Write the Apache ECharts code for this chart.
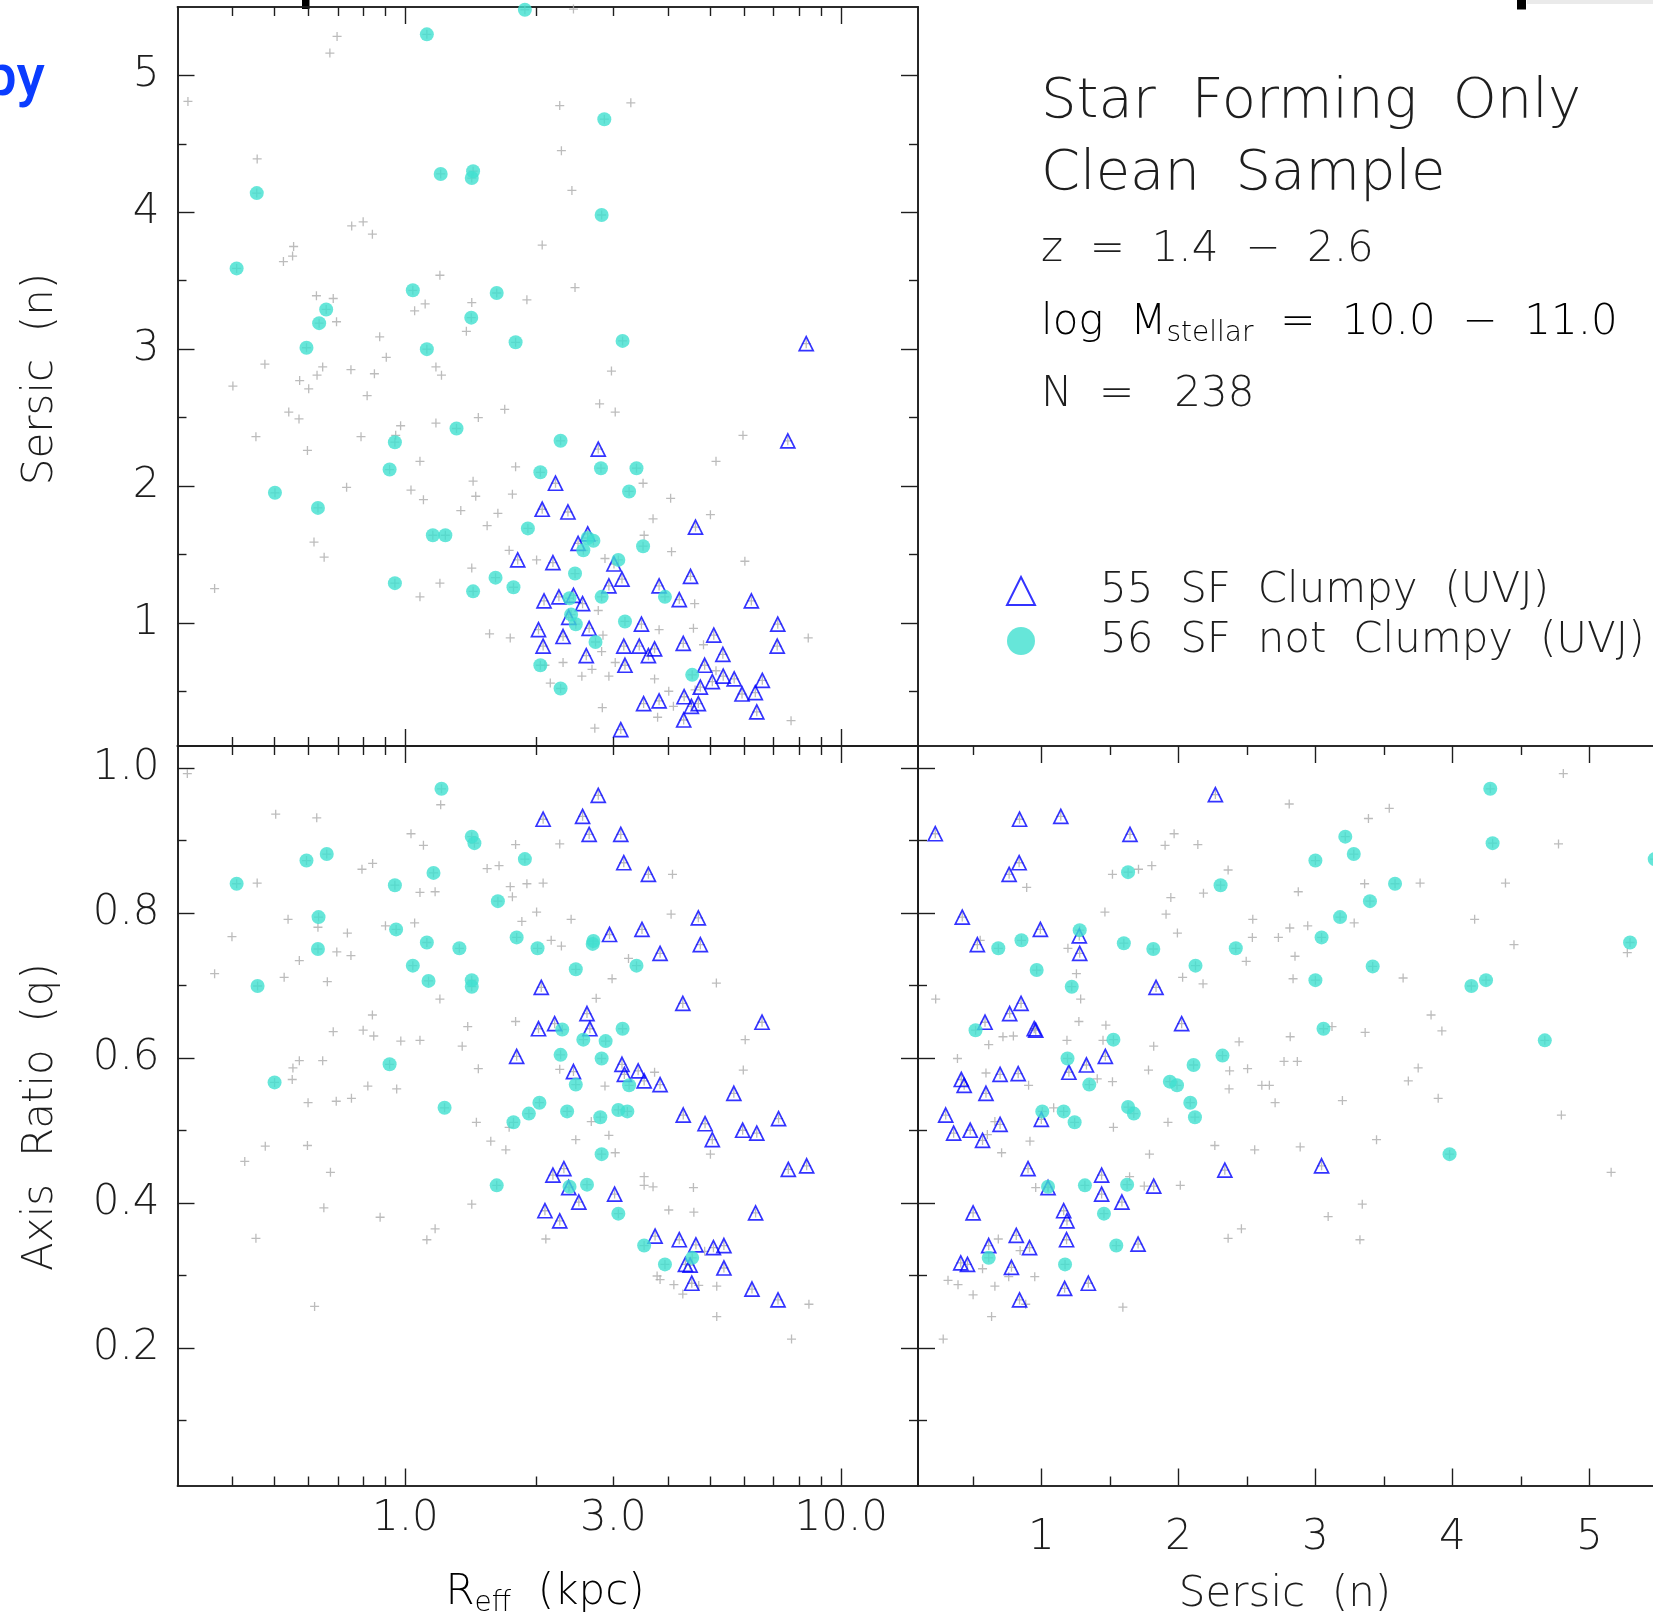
<!DOCTYPE html>
<html>
<head>
<meta charset="utf-8">
<title>Star Forming Only – Clean Sample</title>
<script src="https://cdn.jsdelivr.net/npm/echarts@6/dist/echarts.min.js"></script>
<style>
  html, body { margin: 0; padding: 0; background: #ffffff; overflow: hidden; }
  #chart { width: 1653px; height: 1624px; }
</style>
</head>
<body>
<div id="chart"></div>
<script>
// ---------------------------------------------------------------------------
// Galaxy measurements: effective radius R_eff (kpc), Sersic index n, axis ratio q
// ---------------------------------------------------------------------------

// Panel 1: R_eff vs Sersic n
const reffSersicClumpy = [
  [7.54,2.33],[2.77,2.27],[2.21,2.02],[2.06,1.83],[2.36,1.81],[4.63,1.70],[2.62,1.65],[2.49,1.58],
  [1.81,1.46],[2.18,1.44],[3.01,1.43],[3.14,1.32],[2.93,1.27],[3.82,1.27],[4.51,1.34],[4.25,1.17],
  [6.22,1.16],[2.08,1.16],[2.25,1.19],[2.43,1.20],[2.55,1.14],[2.37,1.04],[2.02,0.95],[2.30,0.90],
  [2.64,0.96],[3.48,0.99],[2.07,0.83],[2.60,0.76],[3.17,0.83],[3.44,0.83],[3.73,0.81],[3.61,0.76],
  [3.19,0.69],[4.34,0.85],[5.10,0.91],[5.35,0.77],[7.15,0.99],[7.13,0.83],[4.86,0.69],[4.75,0.53],
  [5.06,0.57],[5.36,0.61],[5.68,0.59],[6.59,0.58],[5.92,0.48],[6.35,0.49],[4.36,0.46],[4.70,0.41],
  [4.53,0.39],[3.82,0.43],[3.52,0.41],[4.35,0.29],[6.40,0.35],[3.12,0.22],[8.31,3.04]
];
const reffSersicNotClumpy = [
  [1.12,5.30],[1.88,5.48],[2.86,4.68],[1.205,4.28],[1.43,4.30],[1.42,4.25],[0.456,4.14],[2.82,3.98],
  [0.41,3.59],[1.04,3.43],[1.62,3.41],[0.658,3.29],[0.634,3.19],[1.416,3.23],[1.79,3.05],[3.15,3.06],
  [0.593,3.01],[1.12,3.00],[1.31,2.42],[0.946,2.32],[2.27,2.33],[0.92,2.12],[2.81,2.13],[3.39,2.13],
  [2.04,2.10],[0.502,1.95],[3.26,1.96],[0.63,1.84],[1.91,1.69],[1.156,1.64],[1.235,1.64],[2.62,1.62],
  [2.70,1.60],[2.56,1.53],[3.51,1.56],[3.08,1.46],[2.45,1.36],[1.61,1.33],[0.946,1.29],[1.77,1.26],
  [1.43,1.23],[2.38,1.18],[2.82,1.19],[3.94,1.19],[2.40,1.06],[3.19,1.01],[2.46,0.99],[2.73,0.86],
  [2.04,0.69],[4.55,0.62],[2.27,0.52]
];
const reffSersicOther = [
  [2.43,5.485],[0.697,5.285],[0.671,5.163],[0.317,4.81],[2.26,4.78],[3.29,4.80],[0.457,4.39],[2.28,4.45],
  [2.41,4.16],[0.753,3.90],[0.80,3.93],[0.84,3.84],[0.554,3.75],[0.551,3.68],[0.525,3.64],[2.06,3.76],
  [1.20,3.54],[2.45,3.45],[0.625,3.39],[0.683,3.37],[1.11,3.33],[1.05,3.28],[1.42,3.34],[1.90,3.36],
  [0.695,3.20],[0.873,3.09],[1.38,3.13],[0.904,2.94],[0.476,2.89],[0.646,2.87],[0.627,2.81],[0.75,2.85],
  [0.849,2.82],[1.175,2.87],[1.21,2.81],[2.97,2.84],[0.402,2.73],[0.572,2.77],[0.60,2.71],[0.817,2.66],
  [0.54,2.54],[0.57,2.49],[0.454,2.36],[0.596,2.26],[0.791,2.36],[0.95,2.37],[0.975,2.44],[1.175,2.46],
  [1.47,2.50],[1.69,2.56],[2.79,2.60],[3.03,2.54],[1.08,2.18],[1.79,2.14],[1.43,2.035],[1.45,1.925],
  [1.03,1.97],[1.10,1.90],[0.733,1.99],[1.76,1.94],[1.34,1.82],[1.63,1.80],[1.54,1.71],[3.51,2.02],
  [4.06,1.91],[5.01,1.79],[3.70,1.76],[5.16,2.18],[5.95,2.37],[3.53,1.64],[4.08,1.52],[6.01,1.45],
  [0.617,1.59],[0.651,1.48],[0.365,1.25],[1.20,1.29],[1.08,1.19],[1.42,1.40],[1.73,1.53],[2.00,1.46],
  [2.87,1.47],[2.77,1.09],[4.61,1.14],[3.82,0.95],[4.58,0.96],[4.83,0.84],[8.40,0.89],[1.56,0.92],
  [1.74,0.89],[2.84,0.91],[2.82,0.79],[2.09,0.69],[2.30,0.71],[3.03,0.71],[2.68,0.66],[2.54,0.61],
  [2.93,0.61],[2.15,0.56],[3.73,0.59],[4.02,0.50],[4.12,0.39],[3.79,0.31],[4.62,0.51],[5.16,0.65],
  [2.83,0.38],[2.72,0.23],[7.67,0.285]
];

// Panel 2: R_eff vs axis ratio q
const reffAxisRatioClumpy = [
  [2.77,0.962],[2.07,0.929],[2.55,0.933],[2.64,0.908],[3.12,0.908],[3.17,0.869],[3.61,0.853],[4.70,0.793],
  [2.94,0.770],[3.49,0.777],[4.75,0.756],[3.84,0.744],[2.05,0.697],[4.33,0.675],[2.61,0.661],[6.58,0.649],
  [2.02,0.640],[2.20,0.647],[2.65,0.640],[1.80,0.602],[2.43,0.581],[3.14,0.591],[3.42,0.582],[3.18,0.577],
  [3.53,0.568],[3.84,0.563],[5.67,0.551],[4.34,0.521],[4.87,0.509],[5.06,0.487],[5.94,0.500],[6.40,0.496],
  [7.18,0.516],[7.56,0.446],[8.33,0.451],[2.18,0.438],[2.31,0.447],[2.37,0.421],[2.50,0.401],[3.02,0.412],
  [2.09,0.389],[2.26,0.375],[6.36,0.386],[3.74,0.354],[4.25,0.349],[4.64,0.342],[5.09,0.338],[5.38,0.341],
  [4.39,0.315],[4.50,0.314],[5.38,0.310],[4.54,0.289],[6.24,0.281],[7.16,0.266]
];
const reffAxisRatioNotClumpy = [
  [1.21,0.971],[1.42,0.905],[1.44,0.896],[0.66,0.881],[0.593,0.872],[1.88,0.874],[1.16,0.855],[0.41,0.840],
  [0.946,0.838],[1.63,0.816],[0.632,0.794],[0.952,0.777],[1.80,0.766],[1.12,0.759],[1.33,0.751],[2.01,0.751],
  [2.70,0.761],[2.69,0.757],[0.63,0.750],[1.04,0.727],[2.46,0.722],[3.39,0.727],[1.13,0.706],[1.42,0.707],
  [1.42,0.698],[0.458,0.699],[2.29,0.639],[3.15,0.640],[2.56,0.625],[2.88,0.623],[2.27,0.604],[2.82,0.599],
  [0.92,0.591],[0.501,0.566],[2.46,0.563],[3.26,0.562],[1.23,0.531],[2.03,0.538],[1.92,0.523],[1.77,0.511],
  [2.35,0.526],[2.80,0.518],[3.08,0.528],[3.23,0.526],[2.82,0.467],[1.62,0.424],[2.38,0.422],[2.61,0.425],
  [3.08,0.385],[3.53,0.341],[4.55,0.324],[3.94,0.315]
];
const reffAxisRatioOther = [
  [0.316,0.992],[0.504,0.936],[0.626,0.931],[1.205,0.949],[1.03,0.909],[1.10,0.893],[1.79,0.894],[2.26,0.895],
  [0.795,0.860],[0.841,0.868],[1.54,0.861],[1.64,0.865],[4.10,0.853],[0.457,0.841],[1.74,0.836],[1.90,0.840],
  [2.07,0.841],[1.08,0.828],[1.17,0.829],[1.76,0.822],[2.00,0.801],[0.538,0.791],[2.40,0.791],[4.07,0.798],
  [1.85,0.788],[0.40,0.767],[0.736,0.772],[0.90,0.782],[1.05,0.786],[0.63,0.780],[0.696,0.746],[0.75,0.741],
  [0.571,0.734],[2.16,0.762],[2.28,0.754],[3.25,0.737],[2.98,0.709],[5.17,0.703],[0.365,0.716],[0.527,0.711],
  [0.662,0.705],[1.20,0.681],[2.74,0.682],[0.84,0.659],[0.683,0.636],[0.80,0.638],[0.846,0.630],[0.976,0.623],
  [1.08,0.624],[1.39,0.643],[1.79,0.650],[1.35,0.616],[6.02,0.625],[0.571,0.596],[0.646,0.596],[0.552,0.586],
  [1.47,0.585],[5.96,0.583],[2.26,0.584],[3.73,0.580],[0.55,0.570],[0.598,0.538],[0.694,0.540],[0.752,0.544],
  [0.82,0.561],[0.955,0.557],[1.455,0.511],[1.57,0.485],[1.70,0.473],[1.73,0.504],[2.67,0.512],[2.87,0.561],
  [2.93,0.493],[2.46,0.487],[3.03,0.469],[5.01,0.467],[3.53,0.436],[3.53,0.424],[3.70,0.422],[4.58,0.421],
  [4.02,0.390],[4.59,0.387],[0.477,0.478],[0.596,0.479],[0.428,0.457],[0.673,0.442],[0.65,0.393],[0.875,0.380],
  [1.42,0.398],[1.17,0.364],[1.12,0.349],[2.10,0.350],[0.454,0.351],[3.78,0.299],[3.84,0.294],[4.13,0.287],
  [4.33,0.274],[4.71,0.286],[5.18,0.285],[5.18,0.243],[8.43,0.260],[7.69,0.212],[0.619,0.257],[4.86,0.333]
];

// Panel 3: Sersic n vs axis ratio q
const sersicAxisRatioClumpy = [
  [0.226,0.909],[0.841,0.929],[1.142,0.933],[2.270,0.963],[1.647,0.908],[0.838,0.869],[0.765,0.853],[0.423,0.794],
  [0.993,0.777],[0.533,0.756],[1.277,0.768],[1.280,0.744],[1.837,0.697],[0.852,0.675],[0.769,0.661],[0.589,0.649],
  [0.948,0.640],[0.959,0.638],[2.024,0.647],[1.467,0.602],[1.329,0.590],[0.416,0.570],[0.437,0.562],[0.699,0.577],
  [0.831,0.578],[0.596,0.551],[1.201,0.580],[0.302,0.521],[0.360,0.496],[0.481,0.500],[0.571,0.486],[0.699,0.508],
  [1.000,0.515],[0.903,0.447],[1.049,0.421],[1.440,0.438],[1.440,0.412],[1.588,0.401],[1.820,0.423],[2.339,0.445],
  [3.045,0.451],[0.502,0.386],[1.163,0.389],[1.187,0.375],[1.184,0.349],[0.817,0.355],[0.914,0.338],[0.616,0.341],
  [0.412,0.317],[0.461,0.315],[0.782,0.311],[1.706,0.343],[1.170,0.282],[1.343,0.289],[0.841,0.266]
];
const sersicAxisRatioNotClumpy = [
  [4.276,0.971],[3.218,0.905],[4.293,0.896],[3.280,0.881],[3.000,0.872],[5.476,0.874],[1.633,0.856],[2.308,0.838],
  [3.581,0.840],[3.398,0.816],[3.180,0.794],[1.280,0.776],[3.045,0.766],[5.296,0.759],[0.686,0.751],[0.855,0.762],
  [1.602,0.758],[1.817,0.750],[2.419,0.751],[0.966,0.721],[2.125,0.727],[3.418,0.726],[1.222,0.698],[3.000,0.707],
  [4.138,0.699],[4.245,0.707],[0.520,0.638],[1.526,0.625],[3.059,0.640],[4.674,0.624],[1.191,0.599],[2.111,0.590],
  [2.322,0.603],[1.938,0.567],[1.990,0.562],[1.350,0.563],[2.087,0.538],[2.121,0.518],[1.007,0.526],[1.163,0.526],
  [1.243,0.511],[1.633,0.532],[1.675,0.523],[1.049,0.422],[1.318,0.424],[1.626,0.425],[1.457,0.385],[3.979,0.467],
  [1.547,0.341],[0.616,0.324],[1.173,0.315]
];
const sersicAxisRatioOther = [
  [4.809,0.992],[2.809,0.950],[3.539,0.944],[3.387,0.930],[1.969,0.909],[1.903,0.893],[2.142,0.894],[4.774,0.895],
  [1.519,0.853],[1.709,0.860],[1.806,0.865],[2.363,0.859],[0.893,0.835],[1.945,0.821],[2.183,0.827],[2.875,0.829],
  [3.359,0.840],[3.764,0.841],[4.387,0.841],[1.464,0.801],[1.910,0.798],[2.543,0.791],[2.813,0.779],[2.944,0.782],
  [3.283,0.786],[4.162,0.791],[1.993,0.772],[2.540,0.766],[2.730,0.766],[4.449,0.756],[1.194,0.751],[0.554,0.762],
  [2.495,0.733],[2.851,0.740],[5.276,0.745],[1.256,0.716],[2.031,0.711],[2.180,0.702],[2.837,0.709],[3.640,0.710],
  [0.229,0.681],[1.287,0.681],[3.844,0.659],[3.923,0.637],[1.274,0.650],[1.471,0.645],[3.121,0.643],[3.363,0.635],
  [0.616,0.618],[0.720,0.629],[0.796,0.630],[1.187,0.624],[1.450,0.624],[1.820,0.616],[2.443,0.622],[2.816,0.629],
  [0.388,0.599],[1.782,0.583],[2.374,0.582],[2.505,0.585],[2.771,0.595],[2.868,0.595],[3.750,0.586],[0.596,0.579],
  [0.907,0.562],[1.519,0.567],[1.408,0.571],[2.370,0.557],[2.609,0.562],[2.664,0.562],[2.706,0.538],[3.197,0.541],
  [3.678,0.568],[3.896,0.544],[4.795,0.521],[1.924,0.511],[1.526,0.504],[0.661,0.512],[0.606,0.494],[0.917,0.485],
  [0.710,0.469],[1.789,0.467],[2.266,0.479],[2.557,0.473],[2.889,0.477],[3.446,0.487],[5.158,0.442],[0.959,0.421],
  [1.090,0.531],[2.014,0.424],[1.751,0.423],[1.644,0.436],[3.342,0.398],[3.093,0.381],[2.460,0.364],[2.363,0.351],
  [3.325,0.349],[0.686,0.350],[0.845,0.334],[0.571,0.309],[0.319,0.293],[0.392,0.287],[0.502,0.273],[0.661,0.285],
  [0.762,0.298],[0.952,0.298],[1.595,0.256],[0.637,0.243],[0.886,0.260],[0.284,0.212]
];

// Axis ranges and ticks
const reffRange = [0.3, 15];
const sersicRange = [0.1, 5.5];
const axisRatioRange = [0.01, 1.03];
const reffTicksMajor = [1, 10];
const reffTicksMinor = [0.4, 0.5, 0.6, 0.7, 0.8, 0.9, 2, 3, 4, 5, 6, 7, 8, 9];
const reffTickLabels = [1, 3, 10];
const reffTickLabelText = ['1.0', '3.0', '10.0'];
const sersicTicksMajor = [1, 2, 3, 4, 5];
const sersicTicksMinor = [0.5, 1.5, 2.5, 3.5, 4.5];
const axisRatioTicksMajor = [0.2, 0.4, 0.6, 0.8, 1.0];
const axisRatioTicksMinor = [0.1, 0.3, 0.5, 0.7, 0.9];

// Labels
const legendNames = ['55  SF  Clumpy  (UVJ)', '56  SF  not  Clumpy  (UVJ)'];
const infoLines = ['Star  Forming  Only', 'Clean  Sample', 'z  =  1.4  −  2.6', 'N  =   238'];

// ---------------------------------------------------------------------------
const INK = '#1e1e1e';
const FONT = "'DejaVu Sans', Lato, sans-serif";
const WEIGHT = 200;
const LABEL_SIZE = 42;
const CLUMPY_BLUE = '#0000ff';
const TURQUOISE = '#40e0d0';
const CROSS_GREY = '#ababab';
const MAJOR_LEN = 17;
const MINOR_LEN = 9;
const log10 = Math.log10;

const labelStyle = { fontFamily: FONT, fontWeight: WEIGHT, fontSize: LABEL_SIZE, color: INK };

// A visible axis carrying a set of inside ticks (and optionally labels)
function tickAxis(o) {
  return {
    type: 'value',
    gridIndex: o.grid,
    position: o.pos,
    min: o.min,
    max: o.max,
    axisLine: { show: true, onZero: false, lineStyle: { color: INK, width: 1.6 } },
    axisTick: {
      show: true, inside: true, length: o.len, customValues: o.ticks,
      lineStyle: { color: INK, width: 1.4 }
    },
    axisLabel: o.labels
      ? Object.assign({ show: true, customValues: o.labels, formatter: o.fmt, margin: o.margin,
                        padding: o.pad || 0 }, labelStyle)
      : { show: false },
    splitLine: { show: false },
    minorTick: { show: false }
  };
}
// Hidden log axis used to place the points of the R_eff panels
function reffDataAxis(grid) {
  return {
    type: 'log', logBase: 10, gridIndex: grid, min: reffRange[0], max: reffRange[1], show: false,
    axisLine: { onZero: false }, splitLine: { show: false }
  };
}
const reffLog = reffRange.map(log10);
const reffFmt = v => {
  const i = reffTickLabels.findIndex(r => Math.abs(log10(r) - v) < 1e-6);
  return i >= 0 ? reffTickLabelText[i] : '';
};

const xAxes = [
  // panel 1 (grid 0)
  reffDataAxis(0),
  tickAxis({ grid: 0, pos: 'bottom', min: reffLog[0], max: reffLog[1], len: MAJOR_LEN, ticks: reffTicksMajor.map(log10) }),
  tickAxis({ grid: 0, pos: 'bottom', min: reffLog[0], max: reffLog[1], len: MINOR_LEN, ticks: reffTicksMinor.map(log10) }),
  tickAxis({ grid: 0, pos: 'top', min: reffLog[0], max: reffLog[1], len: MAJOR_LEN, ticks: reffTicksMajor.map(log10) }),
  tickAxis({ grid: 0, pos: 'top', min: reffLog[0], max: reffLog[1], len: MINOR_LEN, ticks: reffTicksMinor.map(log10) }),
  // panel 2 (grid 1)
  reffDataAxis(1),
  tickAxis({ grid: 1, pos: 'bottom', min: reffLog[0], max: reffLog[1], len: MAJOR_LEN, ticks: reffTicksMajor.map(log10),
             labels: reffTickLabels.map(log10), fmt: reffFmt, margin: 13 }),
  tickAxis({ grid: 1, pos: 'bottom', min: reffLog[0], max: reffLog[1], len: MINOR_LEN, ticks: reffTicksMinor.map(log10) }),
  tickAxis({ grid: 1, pos: 'top', min: reffLog[0], max: reffLog[1], len: MAJOR_LEN, ticks: reffTicksMajor.map(log10) }),
  tickAxis({ grid: 1, pos: 'top', min: reffLog[0], max: reffLog[1], len: MINOR_LEN, ticks: reffTicksMinor.map(log10) }),
  // panel 3 (grid 2)
  tickAxis({ grid: 2, pos: 'bottom', min: sersicRange[0], max: sersicRange[1], len: MAJOR_LEN, ticks: sersicTicksMajor,
             labels: sersicTicksMajor, fmt: v => String(v), margin: 32 }),
  tickAxis({ grid: 2, pos: 'bottom', min: sersicRange[0], max: sersicRange[1], len: MINOR_LEN, ticks: sersicTicksMinor }),
  tickAxis({ grid: 2, pos: 'top', min: sersicRange[0], max: sersicRange[1], len: MAJOR_LEN, ticks: sersicTicksMajor }),
  tickAxis({ grid: 2, pos: 'top', min: sersicRange[0], max: sersicRange[1], len: MINOR_LEN, ticks: sersicTicksMinor })
];

const yAxes = [
  // panel 1
  tickAxis({ grid: 0, pos: 'left', min: sersicRange[0], max: sersicRange[1], len: MAJOR_LEN, ticks: sersicTicksMajor,
             labels: sersicTicksMajor, fmt: v => String(v), margin: 18, pad: [10, 0, 0, 0] }),
  tickAxis({ grid: 0, pos: 'left', min: sersicRange[0], max: sersicRange[1], len: MINOR_LEN, ticks: sersicTicksMinor }),
  tickAxis({ grid: 0, pos: 'right', min: sersicRange[0], max: sersicRange[1], len: MAJOR_LEN, ticks: sersicTicksMajor }),
  tickAxis({ grid: 0, pos: 'right', min: sersicRange[0], max: sersicRange[1], len: MINOR_LEN, ticks: sersicTicksMinor }),
  // panel 2
  tickAxis({ grid: 1, pos: 'left', min: axisRatioRange[0], max: axisRatioRange[1], len: MAJOR_LEN, ticks: axisRatioTicksMajor,
             labels: axisRatioTicksMajor, fmt: v => v.toFixed(1), margin: 18, pad: [10, 0, 0, 0] }),
  tickAxis({ grid: 1, pos: 'left', min: axisRatioRange[0], max: axisRatioRange[1], len: MINOR_LEN, ticks: axisRatioTicksMinor }),
  tickAxis({ grid: 1, pos: 'right', min: axisRatioRange[0], max: axisRatioRange[1], len: MAJOR_LEN, ticks: axisRatioTicksMajor }),
  tickAxis({ grid: 1, pos: 'right', min: axisRatioRange[0], max: axisRatioRange[1], len: MINOR_LEN, ticks: axisRatioTicksMinor }),
  // panel 3
  tickAxis({ grid: 2, pos: 'left', min: axisRatioRange[0], max: axisRatioRange[1], len: MAJOR_LEN, ticks: axisRatioTicksMajor }),
  tickAxis({ grid: 2, pos: 'left', min: axisRatioRange[0], max: axisRatioRange[1], len: MINOR_LEN, ticks: axisRatioTicksMinor })
];

const CROSS = 'path://M0,5L10,5M5,0L5,10';

function panelSeries(xi, yi, clumpy, notClumpy, other) {
  return [
    { // every galaxy of the sample
      type: 'scatter', xAxisIndex: xi, yAxisIndex: yi, silent: true, z: 2,
      data: other.concat(clumpy, notClumpy),
      symbol: CROSS, symbolSize: 9,
      itemStyle: { color: 'transparent', borderColor: CROSS_GREY, borderWidth: 1.3 }
    },
    {
      name: legendNames[0], type: 'scatter', xAxisIndex: xi, yAxisIndex: yi, silent: true, z: 3,
      data: clumpy, symbol: 'triangle', symbolSize: [14, 14],
      itemStyle: { color: 'transparent', borderColor: CLUMPY_BLUE, borderWidth: 1.7 }
    },
    {
      name: legendNames[1], type: 'scatter', xAxisIndex: xi, yAxisIndex: yi, silent: true, z: 4,
      data: notClumpy, symbol: 'circle', symbolSize: 14,
      itemStyle: { color: TURQUOISE }
    }
  ];
}

const textBase = { fontFamily: FONT, fontWeight: WEIGHT, fill: INK };
function label(x, y, text, size, opts) {
  opts = opts || {};
  return {
    type: 'text', x: x, y: y, silent: true, rotation: opts.rotation || 0,
    style: Object.assign({}, textBase, { text: text, fontSize: size, align: opts.align || 'left', verticalAlign: 'middle' })
  };
}
const richParts = {
  m: { fontFamily: FONT, fontWeight: WEIGHT, fontSize: 42, color: INK, lineHeight: 50 },
  s: { fontFamily: FONT, fontWeight: WEIGHT, fontSize: 28, color: INK, lineHeight: 18, verticalAlign: 'bottom' }
};

const option = {
  animation: false,
  backgroundColor: '#ffffff',
  grid: [
    { left: 177.5, top: 7, width: 740.5, height: 739, outerBoundsMode: 'none', containLabel: false },
    { left: 177.5, top: 746, width: 740.5, height: 739.5, outerBoundsMode: 'none', containLabel: false },
    { left: 918, top: 746, width: 740, height: 739.5, outerBoundsMode: 'none', containLabel: false }
  ],
  xAxis: xAxes,
  yAxis: yAxes,
  legend: {
    data: [
      { name: legendNames[0], icon: 'triangle',
        itemStyle: { color: 'transparent', borderColor: CLUMPY_BLUE, borderWidth: 2 } },
      { name: legendNames[1], icon: 'circle', itemStyle: { color: TURQUOISE, borderWidth: 0 } }
    ],
    orient: 'vertical', left: 1006, top: 570, padding: 0,
    itemWidth: 28, itemHeight: 28, itemGap: 8,
    selectedMode: false,
    textStyle: { fontFamily: FONT, fontWeight: WEIGHT, fontSize: LABEL_SIZE, color: INK, padding: [0, 0, 0, 60] }
  },
  series: [].concat(
    panelSeries(0, 0, reffSersicClumpy, reffSersicNotClumpy, reffSersicOther),
    panelSeries(5, 4, reffAxisRatioClumpy, reffAxisRatioNotClumpy, reffAxisRatioOther),
    panelSeries(10, 8, sersicAxisRatioClumpy, sersicAxisRatioNotClumpy, sersicAxisRatioOther)
  ),
  graphic: [
    // sample description
    label(1041, 102, infoLines[0], 56),
    label(1041, 174, infoLines[1], 56),
    label(1041, 250, infoLines[2], 42),
    {
      type: 'text', x: 1041, y: 323, silent: true,
      style: { text: '{m|log  M}{s|stellar}{m|  =  10.0  −  11.0}', align: 'left', verticalAlign: 'middle', rich: richParts }
    },
    label(1041, 395, infoLines[3], 42),
    // axis titles
    label(41.5, 379, 'Sersic  (n)', 42, { rotation: Math.PI / 2, align: 'center' }),
    label(41.5, 1117, 'Axis  Ratio  (q)', 42, { rotation: Math.PI / 2, align: 'center' }),
    {
      type: 'text', x: 545, y: 1593, silent: true,
      style: { text: '{m|R}{s|eff}{m|  (kpc)}', align: 'center', verticalAlign: 'middle', rich: richParts }
    },
    label(1285, 1595, 'Sersic  (n)', 42, { align: 'center' }),
    // neighbouring figure edges
    { type: 'text', x: 45, y: 80, silent: true,
      style: { text: 'py', fontFamily: 'Roboto', fontWeight: 500, fontSize: 58, fill: '#0a3cff', align: 'right', verticalAlign: 'middle' } },
    { type: 'rect', silent: true, shape: { x: 302, y: 0, width: 7.5, height: 9 }, style: { fill: '#000' } },
    { type: 'rect', silent: true, shape: { x: 1517, y: 0, width: 9, height: 9.5 }, style: { fill: '#000' } },
    { type: 'rect', silent: true, shape: { x: 1527, y: 0, width: 126, height: 4 }, style: { fill: '#dcdcdc', opacity: 0.6 } }
  ]
};

const chart = echarts.init(document.getElementById('chart'), null, { renderer: 'canvas', width: 1653, height: 1624 });
chart.setOption(option);
</script>
</body>
</html>
